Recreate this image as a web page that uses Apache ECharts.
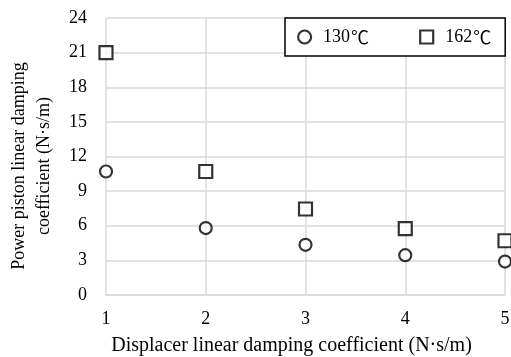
<!DOCTYPE html>
<html>
<head>
<meta charset="utf-8">
<script src="https://cdn.jsdelivr.net/npm/echarts@6/dist/echarts.min.js"></script>
<style>
  html, body { margin: 0; padding: 0; background: #fff; }
  #chart { width: 511px; height: 357px; }
</style>
</head>
<body>
<div id="chart"></div>
<script>
// Displacer linear damping coefficient (N·s/m)
const displacerDamping = [1, 2, 3, 4, 5];
// Power piston linear damping coefficient (N·s/m) at each temperature
const piston130 = [10.7, 5.8, 4.35, 3.45, 2.9];
const piston162 = [21.0, 10.7, 7.45, 5.75, 4.7];
const seriesNames = ['130℃', '162℃'];

const FONT = '"Liberation Serif", "Times New Roman", serif';
const CJK = '"Noto Sans CJK SC", "Liberation Serif", serif';

const chart = echarts.init(document.getElementById('chart'));

const pairs = (xs, ys) => xs.map((x, i) => [x, ys[i]]);

chart.setOption({
  animation: false,
  backgroundColor: '#fff',
  grid: { left: 106, right: 6, top: 18, bottom: 62, outerBoundsMode: 'none', containLabel: false },
  legend: {
    left: 285, top: 18,
    padding: [10, 14, 10, 12],
    itemGap: 50,
    itemWidth: 13, itemHeight: 13,
    borderColor: '#000', borderWidth: 1.5,
    backgroundColor: '#fff',
    // temperature unit set in a CJK face so the ℃ sign keeps its full width
    formatter: name => '{n|' + name.replace('℃', '') + '}{u|℃}',
    textStyle: {
      fontFamily: FONT, fontSize: 18, color: '#000', padding: [0, 0, 0, 7],
      rich: {
        n: { fontFamily: FONT, fontSize: 18, color: '#000' },
        u: { fontFamily: CJK, fontSize: 18, color: '#000', padding: [0, 0, 0, 1] }
      }
    },
    data: [
      { name: seriesNames[0], icon: 'circle', itemStyle: { color: '#fff', borderColor: '#000', borderWidth: 2.2 } },
      { name: seriesNames[1], icon: 'rect', itemStyle: { color: '#fff', borderColor: '#000', borderWidth: 2.2 } }
    ]
  },
  xAxis: {
    type: 'value', min: 1, max: 5, interval: 1,
    name: 'Displacer linear damping coefficient (N·s/m)',
    nameLocation: 'middle', nameGap: 41,
    nameTextStyle: { fontFamily: FONT, fontSize: 20, color: '#000', padding: [0, 28, 0, 0] },
    axisLine: { show: true, lineStyle: { color: '#d9d9d9', width: 1.5 } },
    axisTick: { show: false },
    axisLabel: { fontFamily: FONT, fontSize: 18, color: '#000', margin: 15 },
    splitLine: { show: true, lineStyle: { color: '#d9d9d9', width: 1.5 } }
  },
  yAxis: {
    type: 'value', min: 0, max: 24, interval: 3,
    name: 'Power piston linear damping\ncoefficient (N·s/m)',
    nameLocation: 'middle', nameGap: 49, nameRotate: 90,
    nameTextStyle: { fontFamily: FONT, fontSize: 18, color: '#000', lineHeight: 25, padding: [0, 19, 0, 0] },
    axisLine: { show: false },
    axisTick: { show: false },
    axisLabel: { fontFamily: FONT, fontSize: 18, color: '#000', margin: 19 },
    splitLine: { show: true, lineStyle: { color: '#d9d9d9', width: 1.5 } }
  },
  series: [
    {
      name: seriesNames[0], type: 'scatter',
      data: pairs(displacerDamping, piston130),
      symbol: 'circle', symbolSize: 12,
      itemStyle: { color: '#fff', borderColor: '#000', borderWidth: 2.2 },
      clip: false
    },
    {
      name: seriesNames[1], type: 'scatter',
      data: pairs(displacerDamping, piston162),
      symbol: 'rect', symbolSize: 13,
      itemStyle: { color: '#fff', borderColor: '#000', borderWidth: 2.2 },
      clip: false
    }
  ]
});
</script>
</body>
</html>
